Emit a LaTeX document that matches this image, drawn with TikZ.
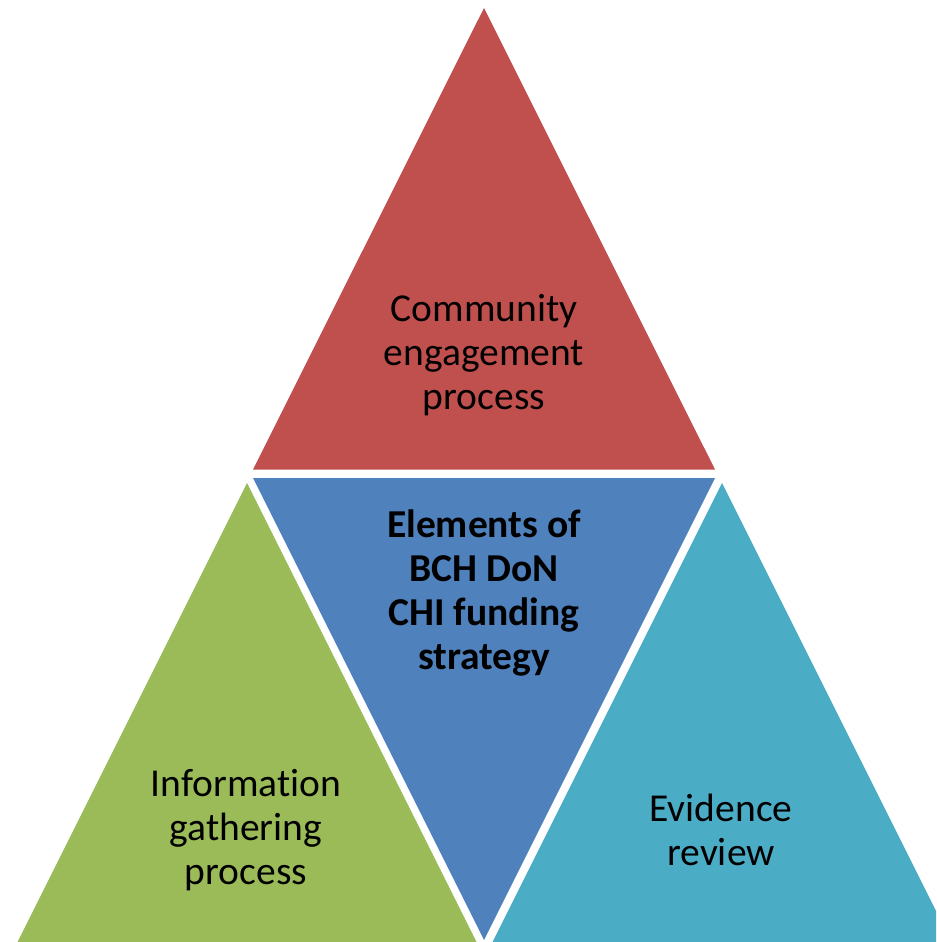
\documentclass[tikz,border=0pt]{standalone}
\usepackage{fontspec}
\setmainfont{Carlito}[Ligatures=NoCommon]
\usepackage{tikz}
\definecolor{engred}{HTML}{C0504D}
\definecolor{corblue}{HTML}{4F81BD}
\definecolor{infogreen}{HTML}{9BBB59}
\definecolor{evteal}{HTML}{4BACC6}
\newcommand{\filltriangle}[4]{
    % apex at (#2,#3), base 462 wide, #4 is the height (negative for upside down)
    \fill[#1] (#2,#3) -- ++(-231,#4) -- ++(462,0) -- cycle;
}

\begin{document}
\begin{tikzpicture}[x=0.02cm, y=-0.02cm]
    \tikzset{label/.style={align=center, font=\fontsize{22.5}{25}\selectfont}}
    \useasboundingbox (0,0) rectangle (936,942);
    \clip (0,0) rectangle (936,942);

    % top triangle
    \filltriangle{engred}{484}{8}{461.5}
    % middle triangle, upside down
    \filltriangle{corblue}{484}{940}{-462}
    % bottom left triangle
    \filltriangle{infogreen}{247}{483}{462}
    % bottom right triangle
    \filltriangle{evteal}{722}{483}{462}

    % texts
    \node[label] (community) at (484,355) {Community\\engagement\\process};
    \node[label, font=\fontsize{22.5}{25}\selectfont\bfseries] (elements) at (484,593)
        {Elements of\\BCH DoN\\CHI funding\\strategy};
    \node[label] (information) at (246,830) {Information\\gathering\\process};
    \node[label] (evidence) at (721,830) {Evidence\\review};
\end{tikzpicture}
\end{document}
